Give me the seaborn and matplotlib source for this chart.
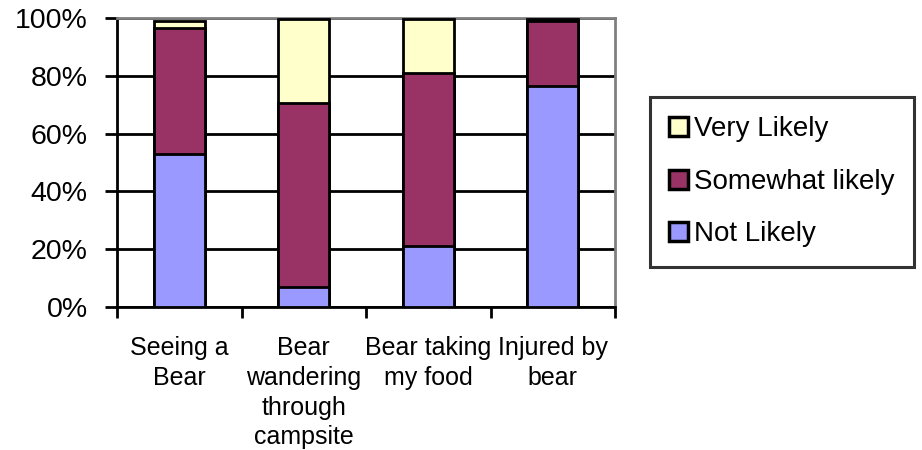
import numpy as np
import pandas as pd
import matplotlib
matplotlib.use("Agg")
import matplotlib.pyplot as plt
import seaborn as sns
from matplotlib.patches import Patch

# ---- data ----
categories = ["Seeing a\nBear", "Bear\nwandering\nthrough\ncampsite",
              "Bear taking\nmy food", "Injured by\nbear"]
not_likely = [53.0, 7.0, 21.0, 76.5]
somewhat_likely = [43.5, 63.5, 60.0, 22.5]
very_likely = [2.5, 29.0, 18.5, 0.5]
series_names = ["Not Likely", "Somewhat likely", "Very Likely"]
series_colors = ["#9999FF", "#993366", "#FFFFCC"]
y_tick_values = [0, 20, 40, 60, 80, 100]
y_tick_labels = ["0%", "20%", "40%", "60%", "80%", "100%"]

sns.set_style("white")
plt.rcParams["font.family"] = ["Liberation Sans", "DejaVu Sans"]
plt.rcParams["text.color"] = "black"
plt.rcParams["xtick.color"] = "black"
plt.rcParams["ytick.color"] = "black"
plt.rcParams["axes.labelcolor"] = "black"

df = pd.DataFrame({
    "category": categories,
    "Not Likely": not_likely,
    "Somewhat likely": somewhat_likely,
    "Very Likely": very_likely,
})
# cumulative tops for stacking
df["top_Not Likely"] = df["Not Likely"]
df["top_Somewhat likely"] = df["Not Likely"] + df["Somewhat likely"]
df["top_Very Likely"] = df["top_Somewhat likely"] + df["Very Likely"]

fig = plt.figure(figsize=(9.22, 4.5), dpi=100)
ax = fig.add_axes([117 / 922, 1 - 307 / 450, (615 - 117) / 922, (307 - 18) / 450])
ax.set_axisbelow(True)

LW = 2.0
# draw from the tallest cumulative bar down so each segment shows
for name, color in reversed(list(zip(series_names, series_colors))):
    sns.barplot(data=df, x="category", y="top_" + name, color=color,
                saturation=1, width=0.41, edgecolor="black", linewidth=LW,
                errorbar=None, ax=ax, zorder=3)

ax.set_xlim(-0.5, len(categories) - 0.5)
ax.set_ylim(0, 100)
ax.set_xlabel("")
ax.set_ylabel("")

ax.set_yticks(y_tick_values)
ax.set_yticklabels(y_tick_labels)
ax.yaxis.grid(True, color="black", linewidth=LW, zorder=0)
ax.xaxis.grid(False)

ax.set_xticks(range(len(categories)))
ax.set_xticklabels(categories, fontsize=18, linespacing=1.3)
ax.set_xticks(np.arange(-0.5, len(categories)), minor=True)

ax.tick_params(axis="y", direction="out", length=9, width=LW, pad=12,
               labelsize=20.5, colors="black", left=True)
ax.tick_params(axis="x", which="major", length=0, pad=21, colors="black")
ax.tick_params(axis="x", which="minor", direction="out", length=8, width=LW,
               bottom=True, colors="black")

for s in ["left", "bottom"]:
    ax.spines[s].set_color("black")
    ax.spines[s].set_linewidth(LW)
for s in ["top", "right"]:
    ax.spines[s].set_color("#808080")
    ax.spines[s].set_linewidth(LW)

handles = [Patch(facecolor=c, edgecolor="black", linewidth=2.5, label=n)
           for n, c in zip(series_names, series_colors)]
handles = handles[::-1]
leg = fig.legend(handles=handles, labels=[h.get_label() for h in handles],
                 loc="upper left", bbox_to_anchor=(650 / 922, 1 - 97 / 450),
                 borderaxespad=0, fontsize=20, frameon=True, fancybox=False,
                 handlelength=0.68, handleheight=0.68, handletextpad=0.2,
                 labelspacing=0.95, borderpad=0.7)
leg.get_frame().set_edgecolor("black")
leg.get_frame().set_linewidth(2.2)
leg.get_frame().set_facecolor("white")
for t in leg.get_texts():
    t.set_color("black")

fig.savefig("out.png", dpi=100)
